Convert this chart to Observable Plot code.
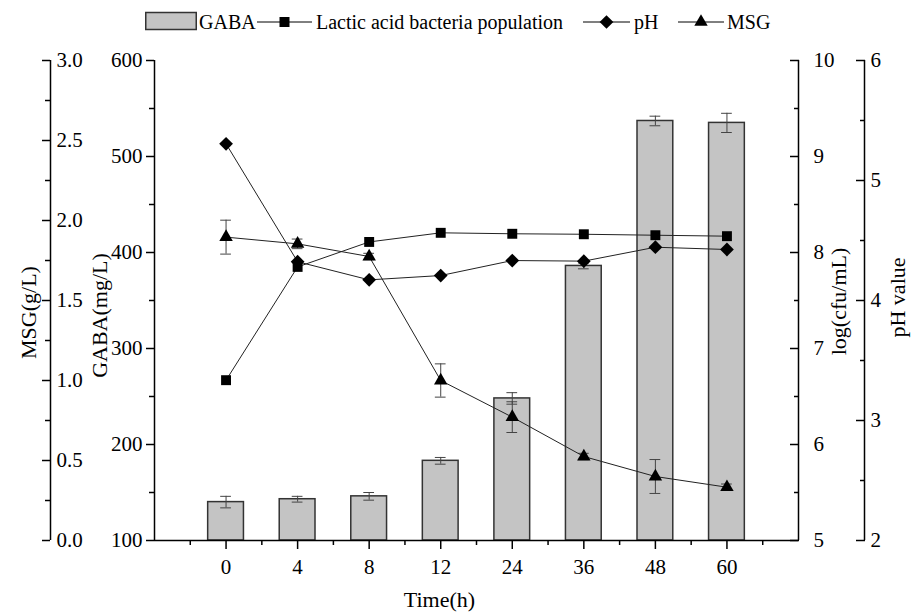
<!DOCTYPE html>
<html>
<head>
<meta charset="utf-8">
<script src="https://cdn.jsdelivr.net/npm/d3@7"></script>
<script src="https://cdn.jsdelivr.net/npm/@observablehq/plot@0.6"></script>
<style>
  body { margin: 0; background: #fff; font-family: "Liberation Serif", "Times New Roman", serif; }
  #legend { position: relative; width: 914px; height: 40px; }
  #legend .lbl { position: absolute; top: 11px; font-size: 20px; line-height: 22px; color: #000; white-space: nowrap; }
  #legend svg { position: absolute; overflow: visible; }
  #chart svg text { font-family: "Liberation Serif", "Times New Roman", serif; }
</style>
</head>
<body>
<div id="legend"></div>
<div id="chart"></div>
<script>
// ---------- data ----------
const times    = ["0", "4", "8", "12", "24", "36", "48", "60"];
const gaba     = [140, 143, 146, 183, 248, 386, 537, 535];          // mg/L
const gabaErr  = [6, 3, 4, 3.5, 6, 3, 5, 10];
const lab      = [6.67, 7.85, 8.11, 8.205, 8.195, 8.19, 8.18, 8.17]; // log(cfu/mL)
const ph       = [5.306, 4.323, 4.172, 4.208, 4.333, 4.328, 4.444, 4.425];
const msg      = [1.896, 1.854, 1.775, 1.0, 0.771, 0.525, 0.40, 0.333]; // g/L
const msgErr   = [0.106, 0.03, 0.02, 0.104, 0.096, 0.02, 0.106, 0.02];

// axes domains and tick labels
const gabaDomain = [100, 600];
const labDomain  = [5, 10];
const phDomain   = [2, 6];
const msgDomain  = [0, 3];
const gabaTicks  = [100, 200, 300, 400, 500, 600];
const gabaMinor  = [150, 250, 350, 450, 550];
const msgTicks   = [0, 0.5, 1.0, 1.5, 2.0, 2.5, 3.0];
const msgMinor   = [0.25, 0.75, 1.25, 1.75, 2.25, 2.75];
const labTicks   = [5, 6, 7, 8, 9, 10];
const labMinor   = [5.5, 6.5, 7.5, 8.5, 9.5];
const phTicks    = [2, 3, 4, 5, 6];
const phMinor    = [2.5, 3.5, 4.5, 5.5];

// ---------- secondary scales mapped into the GABA (primary y) scale ----------
const toLab = d3.scaleLinear(labDomain, gabaDomain);
const toPh  = d3.scaleLinear(phDomain, gabaDomain);
const toMsg = d3.scaleLinear(msgDomain, gabaDomain);

const rows = times.map((t, i) => ({
  i, t, gaba: gaba[i], gErr: gabaErr[i], lab: lab[i], ph: ph[i], msg: msg[i], mErr: msgErr[i]
}));
const xDomain = [-1, times.length];
const majorX = times.map((t, i) => i);
const minorX = d3.range(-0.5, times.length, 1);
const barHalf = 0.25, capHalf = 0.075;

const FONT = '"Liberation Serif", "Times New Roman", serif';
const FS = 21;
const ink = "#000";
const errInk = "#444";

const fmt1 = v => (Math.round(v * 10) / 10).toFixed(1);
const fmt0 = v => String(Math.round(v));
const blank = () => "";
const T = { fontSize: FS, fontFamily: FONT, fontVariant: "normal" };
const TT = { fontSize: 22, fontFamily: FONT, textAnchor: "middle", lineAnchor: "middle" };

const chart = Plot.plot({
  width: 914,
  height: 573,
  marginLeft: 154,
  marginRight: 116,
  marginTop: 20,
  marginBottom: 73,
  x: { type: "linear", domain: xDomain },
  y: { domain: gabaDomain },
  style: { fontFamily: FONT, fontSize: FS + "px", background: "white", color: ink, overflow: "visible" },
  marks: [
    // bars
    Plot.rectY(rows, {
      x1: d => d.i - barHalf, x2: d => d.i + barHalf,
      y1: gabaDomain[0], y2: "gaba",
      fill: "#c4c4c4", stroke: "#333", strokeWidth: 1.5
    }),
    // GABA error bars
    Plot.ruleX(rows, { x: "i", y1: d => d.gaba - d.gErr, y2: d => d.gaba + d.gErr, stroke: errInk, strokeWidth: 1 }),
    Plot.ruleY(rows, { y: d => d.gaba + d.gErr, x1: d => d.i - capHalf, x2: d => d.i + capHalf, stroke: errInk, strokeWidth: 1 }),
    Plot.ruleY(rows, { y: d => d.gaba - d.gErr, x1: d => d.i - capHalf, x2: d => d.i + capHalf, stroke: errInk, strokeWidth: 1 }),

    // MSG error bars
    Plot.ruleX(rows, { x: "i", y1: d => toMsg(d.msg - d.mErr), y2: d => toMsg(d.msg + d.mErr), stroke: errInk, strokeWidth: 1 }),
    Plot.ruleY(rows, { y: d => toMsg(d.msg + d.mErr), x1: d => d.i - capHalf, x2: d => d.i + capHalf, stroke: errInk, strokeWidth: 1 }),
    Plot.ruleY(rows, { y: d => toMsg(d.msg - d.mErr), x1: d => d.i - capHalf, x2: d => d.i + capHalf, stroke: errInk, strokeWidth: 1 }),

    // lines
    Plot.line(rows, { x: "i", y: d => toLab(d.lab), stroke: "#222", strokeWidth: 1 }),
    Plot.line(rows, { x: "i", y: d => toPh(d.ph), stroke: "#222", strokeWidth: 1 }),
    Plot.line(rows, { x: "i", y: d => toMsg(d.msg), stroke: "#222", strokeWidth: 1 }),

    // markers
    Plot.dot(rows, { x: "i", y: d => toLab(d.lab), symbol: "square", r: 5.6, fill: ink, stroke: "none" }),
    Plot.dot(rows, { x: "i", y: d => toPh(d.ph), symbol: "diamond2", r: 6.2, fill: ink, stroke: "none" }),
    Plot.dot(rows, { x: "i", y: d => toMsg(d.msg), symbol: "triangle", r: 5.0, fill: ink, stroke: "none" }),

    // ---- axis lines ----
    Plot.ruleX([xDomain[0]], { y1: gabaDomain[0], y2: gabaDomain[1], stroke: ink, strokeWidth: 1.5 }),             // GABA
    Plot.ruleX([xDomain[0]], { y1: gabaDomain[0], y2: gabaDomain[1], stroke: ink, strokeWidth: 1.5, dx: -104 }),  // MSG
    Plot.ruleX([xDomain[1]], { y1: gabaDomain[0], y2: gabaDomain[1], stroke: ink, strokeWidth: 1.5 }),             // log
    Plot.ruleX([xDomain[1]], { y1: gabaDomain[0], y2: gabaDomain[1], stroke: ink, strokeWidth: 1.5, dx: 66 }),    // pH
    Plot.ruleY([gabaDomain[0]], { x1: xDomain[0], x2: xDomain[1], stroke: ink, strokeWidth: 1.5 }),               // time

    // ---- GABA axis (left) ----
    Plot.axisY({ anchor: "left", ticks: gabaTicks, tickSize: 8, tickPadding: 4, tickFormat: fmt0, ...T, label: null, strokeWidth: 1.5 }),
    Plot.axisY({ anchor: "left", ticks: gabaMinor, tickSize: 5, tickFormat: blank, label: null, strokeWidth: 1.5 }),

    // ---- MSG axis (far left) ----
    Plot.axisY({ anchor: "left", ticks: msgTicks.map(toMsg), tickSize: 8, dx: -104, tickFormat: blank, label: null, strokeWidth: 1.5 }),
    Plot.axisY({ anchor: "left", ticks: msgMinor.map(toMsg), tickSize: 5, dx: -104, tickFormat: blank, label: null, strokeWidth: 1.5 }),
    Plot.axisY({ anchor: "left", ticks: msgTicks.map(toMsg), tickSize: 0, tickPadding: 0, dx: -98, textAnchor: "start",
                 tickFormat: v => fmt1(toMsg.invert(v)), ...T, label: null }),

    // ---- log(cfu/mL) axis (right of frame) ----
    Plot.axisY({ anchor: "right", ticks: labTicks.map(toLab), tickSize: 9, dx: -9, tickFormat: blank, label: null, strokeWidth: 1.5 }),
    Plot.axisY({ anchor: "right", ticks: labMinor.map(toLab), tickSize: 5, dx: -5, tickFormat: blank, label: null, strokeWidth: 1.5 }),
    Plot.axisY({ anchor: "right", ticks: labTicks.map(toLab), tickSize: 0, tickPadding: 15,
                 tickFormat: v => fmt0(toLab.invert(v)), ...T, label: null }),

    // ---- pH axis (far right) ----
    Plot.axisY({ anchor: "right", ticks: phTicks.map(toPh), tickSize: 9, dx: 57, tickFormat: blank, label: null, strokeWidth: 1.5 }),
    Plot.axisY({ anchor: "right", ticks: phMinor.map(toPh), tickSize: 5, dx: 61, tickFormat: blank, label: null, strokeWidth: 1.5 }),
    Plot.axisY({ anchor: "right", ticks: phTicks.map(toPh), tickSize: 0, tickPadding: 0, dx: 72,
                 tickFormat: v => fmt0(toPh.invert(v)), ...T, label: null }),

    // ---- time axis ----
    Plot.axisX({ anchor: "bottom", ticks: majorX, tickSize: 9, tickPadding: 10, tickFormat: i => times[i], ...T, label: null, strokeWidth: 1.5 }),
    Plot.axisX({ anchor: "bottom", ticks: minorX, tickSize: 5, tickFormat: blank, label: null, strokeWidth: 1.5 }),

    // ---- axis titles ----
    Plot.text(["Time(h)"], { text: d => d, frameAnchor: "bottom", dx: -37, dy: 59, ...TT }),
    Plot.text(["MSG(g/L)"], { text: d => d, frameAnchor: "left", dx: -126, dy: 12, rotate: -90, ...TT }),
    Plot.text(["GABA(mg/L)"], { text: d => d, frameAnchor: "left", dx: -55, dy: 15, rotate: -90, ...TT }),
    Plot.text(["log(cfu/mL)"], { text: d => d, frameAnchor: "right", dx: 40, dy: 1, rotate: -90, ...TT }),
    Plot.text(["pH value"], { text: d => d, frameAnchor: "right", dx: 99, dy: -3, rotate: -90, ...TT })
  ]
});
document.getElementById("chart").appendChild(chart);

// ---------- legend ----------
const legendItems = [
  { name: "GABA", kind: "bar", x0: 145, x1: 197, tx: 199 },
  { name: "Lactic acid bacteria population", kind: "square", x0: 257, x1: 312, tx: 316 },
  { name: "pH", kind: "diamond2", x0: 583, x1: 630, tx: 634 },
  { name: "MSG", kind: "triangle", x0: 678, x1: 724, tx: 727 }
];
const legend = d3.select("#legend");
const symSize = { square: 100, diamond2: 120, triangle: 78 };
legendItems.forEach(it => {
  const w = it.x1 - it.x0;
  const svg = legend.append("svg")
    .attr("width", w).attr("height", 26)
    .style("left", it.x0 + "px").style("top", "9px");
  if (it.kind === "bar") {
    svg.append("rect").attr("x", 0.75).attr("y", 3.5).attr("width", w - 1.5).attr("height", 17)
      .attr("fill", "#c4c4c4").attr("stroke", "#333").attr("stroke-width", 1.5);
  } else {
    svg.append("line").attr("x1", 0).attr("x2", w).attr("y1", 13).attr("y2", 13)
      .attr("stroke", "#000").attr("stroke-width", 1);
    const sym = it.kind === "square" ? d3.symbolSquare : it.kind === "diamond2" ? d3.symbolDiamond2 : d3.symbolTriangle;
    svg.append("path").attr("transform", `translate(${w / 2},13)`)
      .attr("d", d3.symbol(sym, symSize[it.kind])()).attr("fill", "#000");
  }
  legend.append("span").attr("class", "lbl").style("left", it.tx + "px").text(it.name);
});
</script>
</body>
</html>
